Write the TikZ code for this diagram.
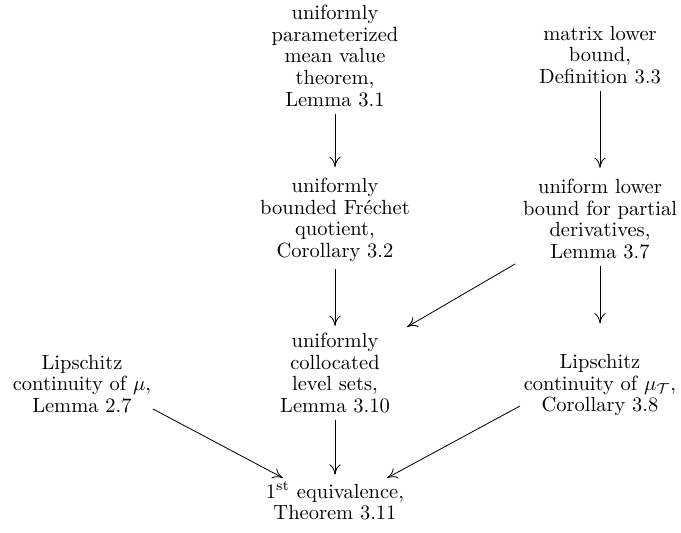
\documentclass[tikz,border=0pt]{standalone}
\usepackage{amsmath}
\usepackage{amsfonts}
\usepackage{tikz}
\usetikzlibrary{arrows.meta}

\begin{document}
\begin{tikzpicture}[x=0.4878pt,y=-0.4878pt,
  fact/.style={align=center,font=\fontsize{10}{10.5}\selectfont},
  imp/.style={-{To[length=5pt,width=5.5pt]}}]
\useasboundingbox (0,0) rectangle (681,533);
% draws results
\node[fact] (lem31) at (335,56) {uniformly\\parameterized\\mean value\\theorem,\\Lemma 3.1};
\node[fact] (def33) at (600,55) {matrix lower\\bound,\\Definition 3.3};
\node[fact] (cor32) at (335,220) {uniformly\\bounded Fr\'echet\\quotient,\\Corollary 3.2};
\node[fact] (lem37) at (600,219) {uniform lower\\bound for partial\\derivatives,\\Lemma 3.7};
\node[fact] (lem27) at (82,384) {Lipschitz\\continuity of $\mu$,\\Lemma 2.7};
\node[fact] (lem310) at (335,373) {uniformly\\collocated\\level sets,\\Lemma 3.10};
\node[fact] (cor38) at (600,385) {Lipschitz\\continuity of $\mu_{\mathcal{T}}$,\\Corollary 3.8};
\node[fact] (thm311) at (335,501) {$1^{\text{st}}$ equivalence,\\Theorem 3.11};
% draws implications
\draw[imp,shorten >=2pt] (lem31.south) -- (cor32.north);
\draw[imp,shorten >=2pt] (def33.south) -- (lem37.north);
\draw[imp] (cor32.south) -- (lem310.north);
\draw[imp,shorten >=11.5pt] (lem37.south) -- (cor38.north);
\draw[imp] ([shift={(-85,45)}]lem37.center) -- ([shift={(72,-46)}]lem310.center);
\draw[imp] ([shift={(71,25)}]lem27.center) -- ([shift={(-52,-23)}]thm311.center);
\draw[imp] (lem310.south) -- (thm311.north);
\draw[imp] ([shift={(-80,21)}]cor38.center) -- ([shift={(52,-23)}]thm311.center);
\end{tikzpicture}
\end{document}
